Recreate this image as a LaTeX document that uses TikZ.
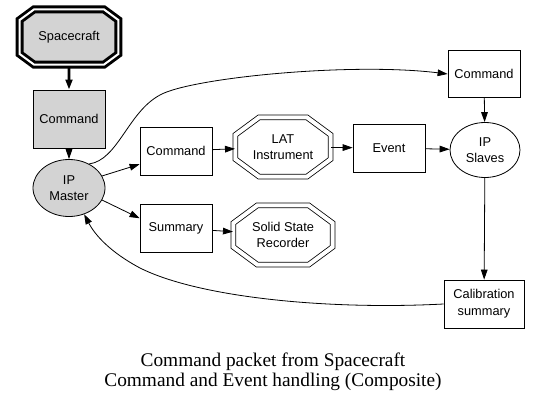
\documentclass[tikz,border=0pt]{standalone}
\usepackage{fontspec}
\setmainfont{Liberation Sans}
\newfontfamily\capfont{Liberation Serif}
\usepackage{tikz}
\usetikzlibrary{arrows.meta,shapes.geometric,shapes.misc}
\definecolor{NodeGray}{HTML}{D3D3D3}

\begin{document}
\begin{tikzpicture}[
  x=0.75pt, y=-0.75pt,
  font=\fontsize{9.6}{12.5}\selectfont,
  >={Triangle[length=7.5pt,width=5pt]},
  % ── plain packet box ─────────────────────────────────────────────────────
  box/.style={
    draw, line width=0.6pt,
    minimum width=54pt, minimum height=36pt,
    align=center, inner sep=1pt
  },
  % ── process (ellipse) ────────────────────────────────────────────────────
  oval/.style={
    draw, ellipse, line width=0.6pt,
    align=center, inner sep=0pt
  },
  % ── end point (double octagon) ───────────────────────────────────────────
  octo/.style={
    draw, chamfered rectangle, chamfered rectangle angle=53.6,
    chamfered rectangle xsep=19pt,
    line width=0.6pt, double, double distance=3pt,
    minimum width=71pt, minimum height=44.5pt,
    align=center, inner sep=0pt
  },
  grayed/.style={fill=NodeGray},
  % ── arrows ───────────────────────────────────────────────────────────────
  arr/.style={->, line width=0.6pt},
  arrB/.style={->, line width=2pt},
]
\useasboundingbox (0,0) rectangle (543,407);

%% ── Left column: Spacecraft side ──
\node[octo, grayed, line width=2.2pt, double distance=1.5pt,
      chamfered rectangle xsep=16pt,
      minimum width=74pt, minimum height=41.5pt]
      (SC)   at (69,37)   {Spacecraft};
\node[box, grayed, minimum height=43.5pt]
      (CMD0) at (69,119)  {Command};
\node[oval, grayed, minimum width=54pt, minimum height=42.75pt]
      (IPM)  at (69,188)  {IP\\Master};

%% ── Middle rows ──
\node[box]  (CMD) at (176,151) {Command};
\node[octo] (LAT) at (283,147) {LAT\\Instrument};
\node[box]  (EVT) at (389,148) {Event};
\node[box]  (SUM) at (176,228) {Summary};
\node[octo, minimum width=74.5pt]
            (SSR) at (283,235) {Solid State\\Recorder};

%% ── Right column: IP slaves ──
\node[box, minimum height=35pt] (CMDR) at (484,74) {Command};
\node[oval, minimum width=52.5pt, minimum height=41.25pt]
            (IPS) at (485,150) {IP\\Slaves};
\node[box, minimum width=60pt]  (CAL)  at (484,304) {Calibration\\summary};

%% ── Caption ──
\node[font=\capfont\fontsize{14.5}{15}\selectfont, align=center]
      (CAP) at (273,372) {Command packet from Spacecraft\\Command and Event handling (Composite)};

%% ── Command path ──────────────────────────────────────────────────────────
\draw[arrB] (SC)   -- (CMD0);
\draw[arr]  (CMD0) -- (IPM);
\draw[arr]  (IPM.20)  -- (CMD.200);
\draw[arr]  (IPM.-20) -- (SUM.165);
\draw[arr]  (CMD) -- (LAT);
\draw[arr]  (LAT) -- (EVT);
\draw[arr]  (EVT) -- (IPS);
\draw[arr]  (SUM) -- (SSR);
\draw[arr]  (IPM.50) .. controls (118,160) and (128,112) .. (160,95)
            .. controls (190,78) and (350,62) .. (CMDR.west);

%% ── Slave side and summary back to master ────────────────────────────────
\draw[arr]  (CMDR) -- (IPS);
\draw[arr]  (IPS)  -- (CAL);
\draw[arr]  (CAL.west) .. controls (330,310) and (200,298) .. (140,268)
            .. controls (110,252) and (95,235) .. (IPM.-60);

\end{tikzpicture}
\end{document}
